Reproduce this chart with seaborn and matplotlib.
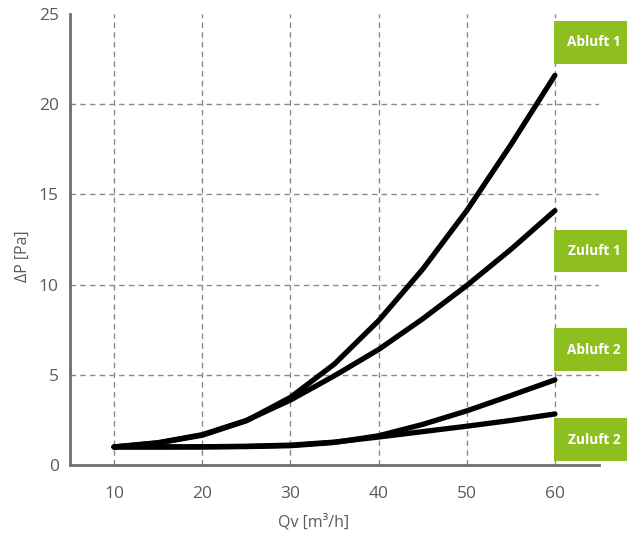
import matplotlib
matplotlib.use("Agg")
import matplotlib.pyplot as plt
from matplotlib.patches import Rectangle
import seaborn as sns
import pandas as pd

# ---- data ----
qv = [10, 15, 20, 25, 30, 35, 40, 45, 50, 55, 60]
abluft1 = [1.0, 1.22, 1.65, 2.45, 3.75, 5.6, 8.0, 10.85, 14.1, 17.75, 21.6]
zuluft1 = [1.0, 1.24, 1.68, 2.47, 3.6, 4.95, 6.4, 8.1, 9.95, 11.95, 14.1]
abluft2 = [1.0, 1.0, 1.0, 1.02, 1.07, 1.25, 1.62, 2.25, 3.0, 3.85, 4.72]
zuluft2 = [1.0, 1.0, 1.01, 1.04, 1.1, 1.27, 1.55, 1.85, 2.15, 2.47, 2.83]
series_names = ["Abluft 1", "Zuluft 1", "Abluft 2", "Zuluft 2"]
x_ticks = [10, 20, 30, 40, 50, 60]
y_ticks = [0, 5, 10, 15, 20, 25]
x_label = "Qv [m³/h]"
y_label = "ΔP [Pa]"

series_values = [abluft1, zuluft1, abluft2, zuluft2]
df = pd.concat(
    [pd.DataFrame({"Qv": qv, "dP": vals, "Kurve": name})
     for name, vals in zip(series_names, series_values)],
    ignore_index=True,
)

sns.set_theme(style="white")
plt.rcParams["font.family"] = ["Open Sans", "DejaVu Sans"]

W, H = 627, 535
fig = plt.figure(figsize=(W / 100, H / 100), dpi=100)
ax = fig.add_axes([70 / W, 1 - 465 / H, 529 / W, 451 / H])

sns.lineplot(
    data=df, x="Qv", y="dP", hue="Kurve", hue_order=series_names,
    palette=["black"] * 4, linewidth=3.8, legend=False, ax=ax,
    solid_capstyle="round", solid_joinstyle="round", zorder=5,
)

ax.set_xlim(5, 65)
ax.set_ylim(0, 25)
ax.set_xticks(x_ticks)
ax.set_yticks(y_ticks)
ax.set_xticklabels([str(t) for t in x_ticks])
ax.set_yticklabels([str(t) for t in y_ticks])

tick_color = "#5b5b5b"
ax.tick_params(axis="x", length=0, pad=15, labelsize=12.5, labelcolor=tick_color)
ax.tick_params(axis="y", length=0, pad=8, labelsize=12.5, labelcolor=tick_color)

ax.grid(True, which="major", color="#8a8a8a", linestyle=(0, (4, 3)), linewidth=1.0)
ax.set_axisbelow(True)
for gl, t in zip(ax.yaxis.get_gridlines(), y_ticks):
    if t in (0, 25):
        gl.set_visible(False)

for s in ("top", "right"):
    ax.spines[s].set_visible(False)
for s in ("left", "bottom"):
    ax.spines[s].set_color("#6e6e6e")
    ax.spines[s].set_linewidth(2.0)

ax.set_xlabel(x_label, fontsize=11.5, color=tick_color, va="center")
ax.set_ylabel(y_label, fontsize=11.5, color=tick_color, va="center")
ax.xaxis.set_label_coords((314 - 70) / 529, (465 - 522) / 451)
ax.yaxis.set_label_coords((23 - 70) / 529, (465 - 256) / 451)

# green label boxes (pixel layout: top, bottom)
box_rows = [(21, 64), (230, 272), (328, 371), (418, 461)]
green = "#8fbe1f"
for name, (top, bot) in zip(series_names, box_rows):
    x0 = 554
    rect = Rectangle((x0 / W, 1 - bot / H), (W - x0) / W, (bot - top) / H,
                     transform=fig.transFigure, facecolor=green,
                     edgecolor="none", zorder=10)
    fig.patches.append(rect)
    fig.text(594 / W, 1 - ((top + bot) / 2) / H, name, color="white",
             fontsize=9.8, fontweight="bold", ha="center", va="center",
             zorder=11)

fig.savefig("out.png", dpi=100)
